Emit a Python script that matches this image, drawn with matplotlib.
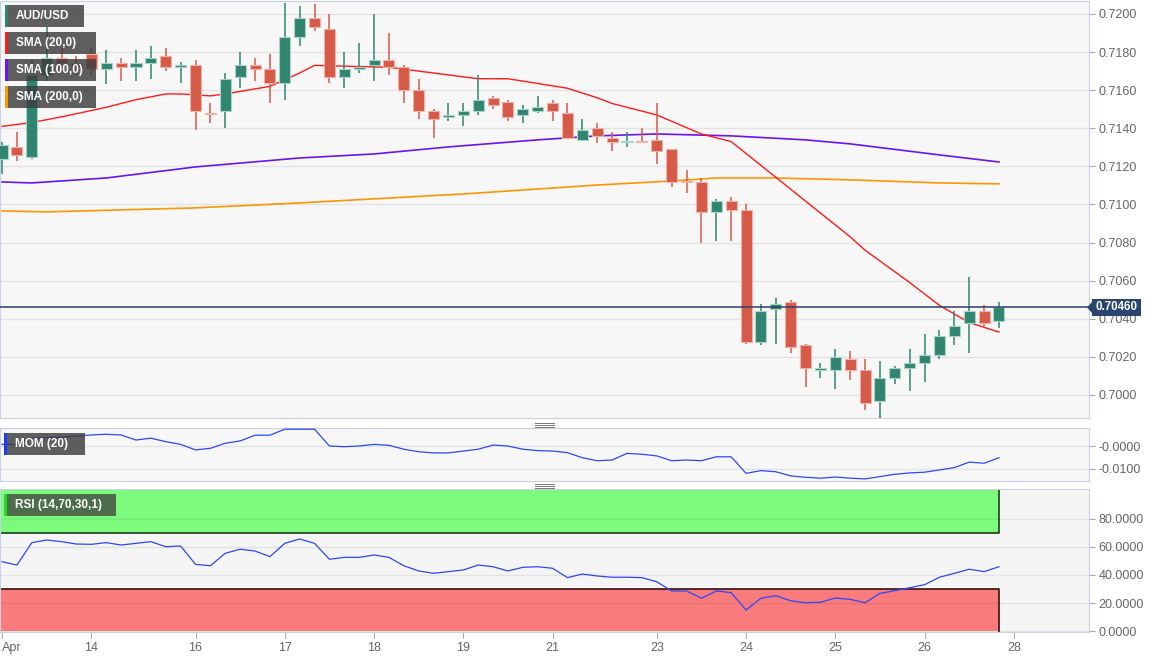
import numpy as np
import matplotlib
matplotlib.use("Agg")
import matplotlib.pyplot as plt
from matplotlib.patches import Rectangle, Polygon
from matplotlib.lines import Line2D

plt.rcParams['font.family'] = ['Liberation Sans', 'DejaVu Sans']

# 4h candles, AUD/USD
opens = [0.7124, 0.7130, 0.7125, 0.7168, 0.7177, 0.7174, 0.7179, 0.7171, 0.7174, 0.7172,
         0.7174, 0.7178, 0.7172, 0.7173, 0.71482, 0.7149, 0.7167, 0.7173, 0.7171, 0.7164,
         0.7188, 0.7198, 0.7192, 0.7167, 0.7171, 0.7173, 0.7176, 0.7172, 0.7160, 0.7149,
         0.7146, 0.7147, 0.7149, 0.7156, 0.7154, 0.7147, 0.7149, 0.7153, 0.7148, 0.7134,
         0.7140, 0.7135, 0.71330, 0.71335, 0.7134, 0.7129, 0.71122, 0.7112, 0.7096, 0.7102,
         0.7097, 0.7028, 0.7045, 0.7049, 0.7026, 0.7013, 0.7013, 0.7019, 0.7013, 0.6997,
         0.7009, 0.7014, 0.7017, 0.7021, 0.7031, 0.7038, 0.7044, 0.7039]
highs = [0.7133, 0.7138, 0.7176, 0.7193, 0.7182, 0.7178, 0.7182, 0.7181, 0.7177, 0.7181,
         0.7183, 0.7182, 0.7175, 0.7176, 0.7153, 0.7169, 0.7180, 0.7177, 0.7179, 0.7206,
         0.7204, 0.7205, 0.7200, 0.7180, 0.7185, 0.7200, 0.7190, 0.7173, 0.7166, 0.7150,
         0.7153, 0.7153, 0.7168, 0.7157, 0.7155, 0.7152, 0.7157, 0.7155, 0.7153, 0.7145,
         0.7143, 0.7138, 0.7138, 0.7140, 0.7153, 0.7129, 0.7118, 0.7114, 0.7103, 0.7104,
         0.7100, 0.7048, 0.7051, 0.7050, 0.7027, 0.7017, 0.7024, 0.7023, 0.7019, 0.7018,
         0.7015, 0.7024, 0.7032, 0.7034, 0.7044, 0.7062, 0.7047, 0.7049]
lows = [0.7116, 0.7123, 0.7124, 0.7165, 0.7170, 0.7168, 0.7168, 0.7163, 0.7165, 0.7165,
        0.7166, 0.7170, 0.7164, 0.7139, 0.7143, 0.7140, 0.7161, 0.7165, 0.7153, 0.7155,
        0.7183, 0.7191, 0.7164, 0.7161, 0.7169, 0.7165, 0.7168, 0.7153, 0.7145, 0.7135,
        0.7144, 0.7141, 0.7147, 0.7150, 0.7144, 0.7143, 0.7148, 0.7144, 0.7135, 0.7134,
        0.7132, 0.7128, 0.7130, 0.7132, 0.7121, 0.7109, 0.7106, 0.7080, 0.7081, 0.7081,
        0.7027, 0.7026, 0.7027, 0.7022, 0.7004, 0.7009, 0.7003, 0.7008, 0.6992, 0.6988,
        0.7006, 0.7002, 0.7007, 0.7019, 0.7026, 0.7022, 0.7036, 0.7035]
closes = [0.7131, 0.7126, 0.7168, 0.7177, 0.7174, 0.7172, 0.7171, 0.7174, 0.7172, 0.7174,
          0.7177, 0.7172, 0.7173, 0.7149, 0.71475, 0.7166, 0.7173, 0.7171, 0.7164, 0.7188,
          0.7198, 0.7193, 0.7167, 0.7171, 0.7172, 0.7176, 0.7172, 0.7160, 0.7149, 0.7145,
          0.7147, 0.7149, 0.7155, 0.7152, 0.7146, 0.7150, 0.7151, 0.7149, 0.7135, 0.7139,
          0.7136, 0.7133, 0.71335, 0.71330, 0.7128, 0.7112, 0.71117, 0.7096, 0.7102, 0.7097,
          0.7028, 0.7044, 0.7048, 0.7025, 0.7014, 0.7014, 0.7020, 0.7013, 0.6996, 0.7009,
          0.7014, 0.7017, 0.7021, 0.7031, 0.7036, 0.7044, 0.7038, 0.7046]

# moving averages (read at candle index)
sma20_idx = [0, 2, 4, 7, 9, 11, 12, 14, 15, 18, 20, 21, 26, 32, 34, 38, 40, 41, 44, 47, 49,
             57, 58, 61, 63, 65, 67]
sma20 = [0.7141, 0.7143, 0.7146, 0.7151, 0.7155, 0.7158, 0.7158, 0.7157, 0.7158, 0.7162, 0.7169,
         0.7173, 0.7172, 0.7166, 0.7166, 0.7161, 0.7156, 0.7153, 0.7147, 0.7137, 0.7133,
         0.7083, 0.7076, 0.7059, 0.7047, 0.7038, 0.7033]
sma100_idx = [0, 2, 7, 13, 20, 25, 30, 36, 40, 44, 49, 54, 57, 63, 67]
sma100 = [0.71118, 0.71113, 0.71139, 0.71197, 0.71244, 0.71265, 0.71302, 0.71339, 0.71360,
          0.71370, 0.71360, 0.71339, 0.71318, 0.71260, 0.71223]
sma200_idx = [0, 3, 13, 20, 31, 40, 45, 48, 52, 57, 63, 67]
sma200 = [0.70966, 0.70961, 0.70982, 0.71008, 0.71055, 0.71102, 0.71123, 0.71139, 0.71139,
          0.71129, 0.71113, 0.71108]

mom = [0.0007, 0.0007, 0.0034, 0.0037, 0.0038, 0.0043, 0.0048, 0.0051, 0.0048, 0.0026,
       0.0034, 0.0019, 0.0007, -0.0017, -0.0010, 0.0012, 0.0022, 0.0047, 0.0047, 0.0073,
       0.0073, 0.0073, 0.0000, -0.0003, 0.0000, 0.0007, 0.0003, -0.0014, -0.0025, -0.0030,
       -0.0030, -0.0022, -0.0014, 0.0004, 0.0000, -0.0014, -0.0020, -0.0022, -0.0029, -0.0051,
       -0.0064, -0.0061, -0.0032, -0.0036, -0.0043, -0.0064, -0.0061, -0.0064, -0.0047, -0.0047,
       -0.0119, -0.0107, -0.0112, -0.0130, -0.0136, -0.0140, -0.0135, -0.0140, -0.0143, -0.0133,
       -0.0123, -0.0117, -0.0114, -0.0104, -0.0094, -0.0070, -0.0075, -0.0051]
rsi = [49.5, 47.1, 63.1, 65.0, 63.8, 62.1, 61.9, 63.1, 61.4, 62.6,
       63.8, 60.2, 60.7, 47.6, 46.6, 55.5, 58.4, 57.1, 53.1, 62.6,
       65.7, 62.6, 51.2, 52.6, 52.6, 54.3, 52.6, 46.6, 42.9, 41.2,
       42.4, 43.6, 47.1, 45.9, 42.9, 45.5, 45.9, 44.8, 38.1, 40.7,
       39.3, 38.4, 38.4, 38.1, 35.2, 28.6, 28.6, 23.4, 28.6, 27.4,
       15.0, 23.4, 25.2, 21.6, 20.2, 20.5, 23.6, 22.6, 20.2, 26.9,
       28.8, 30.9, 33.1, 38.4, 41.2, 44.1, 42.4, 45.9]

day_idx = [0, 6, 13, 19, 25, 31, 37, 44, 50, 56, 62, 68]
day_labels = ['Apr', '14', '16', '17', '18', '19', '21', '23', '24', '25', '26', '28']
last_price = 0.70460

W, H = 1166, 658
GREEN = '#318570'
RED = '#d65a48'
SPINE = '#c9d1e3'
GRID = '#e3e3e3'


def rect(x0, y0, x1, y1):
    return [x0 / W, 1 - y1 / H, (x1 - x0) / W, (y1 - y0) / H]


fig = plt.figure(figsize=(W / 100, H / 100), dpi=100, facecolor='white')
ax = fig.add_axes(rect(0, 1, 1089, 418))
axm = fig.add_axes(rect(0, 428, 1089, 481))
axr = fig.add_axes(rect(0, 489, 1089, 632))

n = len(opens)
x = np.arange(n)
xlim = (-0.14, 73.05)

for a in (ax, axm, axr):
    a.set_facecolor('#f7f7f7')
    a.set_xlim(*xlim)
    for s in a.spines.values():
        s.set_color(SPINE)
    a.yaxis.tick_right()
    a.tick_params(axis='y', length=4, color='#aaaaaa', labelcolor='#666666', labelsize=9, pad=3)
    a.tick_params(axis='x', bottom=False, labelbottom=False)

# main panel
ax.set_ylim(0.69879, 0.72068)
yt = np.arange(0.700, 0.72001, 0.002)
ax.set_yticks(yt)
ax.set_yticklabels([f'{v:.4f}' for v in yt])
for v in yt:
    ax.axhline(v, color=GRID, lw=1, zorder=0.5)

ax.plot(sma200_idx, sma200, color='#ff9500', lw=1.2, zorder=2)
ax.plot(sma100_idx, sma100, color='#6a14f0', lw=1.2, zorder=2)
ax.plot(sma20_idx, sma20, color='#ff1a1a', lw=1.0, zorder=2)

o = np.array(opens)
c = np.array(closes)
up = c >= o
cols = np.where(up, GREEN, RED)
edges = np.where(up, '#a9d3c6', '#f0b2a9')
ax.vlines(x, lows, highs, colors=cols, lw=1.1, zorder=3)
bottom = np.minimum(o, c)
height = np.maximum(np.abs(c - o), 0.00004)
ax.bar(x, height, bottom=bottom, width=0.74, color=cols, edgecolor=edges, lw=0.8, zorder=4)

ax.axhline(last_price, color='#2b3f66', lw=1.1, zorder=5)

# momentum panel
axm.set_ylim(-0.01522, 0.00783)
axm.set_yticks([0, -0.01])
axm.set_yticklabels(['-0.0000', '-0.0100'])
for v in (0, -0.01):
    axm.axhline(v, color=GRID, lw=1, zorder=0.5)
axm.plot(x, mom, color='#2c46ff', lw=0.9, zorder=3)

# rsi panel
axr.set_ylim(-0.7, 101.4)
axr.set_facecolor('#f5f5f5')
rt = [0, 20, 40, 60, 80]
axr.set_yticks(rt)
axr.set_yticklabels([f'{v:.4f}' for v in rt])
axr.fill_between([xlim[0], n - 1], 70, 101.4, color='#7cfa7c', zorder=1, lw=0)
axr.fill_between([xlim[0], n - 1], 0, 30, color='#f97b7b', zorder=1, lw=0)
axr.plot([xlim[0], n - 1, n - 1], [70, 70, 101.4], color='#1c3a1c', lw=1.2, zorder=2)
axr.plot([xlim[0], n - 1, n - 1], [30, 30, -0.7], color='#3a1010', lw=1.2, zorder=2)
for v in rt:
    axr.axhline(v, color='black', alpha=0.07, lw=1, zorder=1.5)
axr.plot(x, rsi, color='#2c46ff', lw=0.9, zorder=3)
axr.set_xticks(day_idx)
axr.set_xticklabels(day_labels)
axr.tick_params(axis='x', bottom=True, labelbottom=True, length=4, color='#aaaaaa',
                labelcolor='#666666', labelsize=9, pad=3)
axr.get_xticklabels()[0].set_horizontalalignment('left')


def px(xp, yp):
    return xp / W, 1 - yp / H


def label_box(x0, y0, x1, y1, text, stripe, alpha=0.82):
    fx, fy = px(x0, y1)
    fig.add_artist(Rectangle((fx, fy), (x1 - x0) / W, (y1 - y0) / H, transform=fig.transFigure,
                             facecolor='#3c3c3c', alpha=alpha, edgecolor='none', zorder=10))
    fig.add_artist(Rectangle((fx, fy), 2.5 / W, (y1 - y0) / H, transform=fig.transFigure,
                             facecolor=stripe, edgecolor='none', zorder=11))
    tx, ty = px(x0 + 11, (y0 + y1) / 2)
    fig.text(tx, ty, text, color='white', fontsize=8.5, fontweight='bold', va='center', ha='left', zorder=12)


label_box(5, 5, 84, 27, 'AUD/USD', GREEN)
label_box(5, 32, 96, 54, 'SMA (20,0)', '#ff1a1a')
label_box(5, 59, 96, 81, 'SMA (100,0)', '#6a14f0')
label_box(5, 86, 96, 108, 'SMA (200,0)', '#ff9500')
label_box(4, 433, 85, 455, 'MOM (20)', '#1a3cff')
label_box(4, 494, 116, 516, 'RSI (14,70,30,1)', '#22dd22', alpha=0.75)

# last price tag
bx0, by0, bx1, by1 = 1092, 299, 1141, 316
fx, fy = px(bx0, by1)
fig.add_artist(Rectangle((fx, fy), (bx1 - bx0) / W, (by1 - by0) / H, transform=fig.transFigure,
                         facecolor='#2b4470', edgecolor='none', zorder=10))
tri = [px(1087, 307.5), px(bx0, by0 + 3), px(bx0, by1 - 3)]
fig.add_artist(Polygon(tri, closed=True, transform=fig.transFigure, facecolor='#2b4470',
                       edgecolor='none', zorder=10))
tx, ty = px((bx0 + bx1) / 2, (by0 + by1) / 2)
fig.text(tx, ty, f'{last_price:.5f}', color='white', fontsize=8.3, fontweight='bold',
         ha='center', va='center', zorder=12)

# panel resize handles
for yh in (423, 484):
    for k in range(3):
        hx0, hy = px(535, yh + 2 * k)
        hx1, _ = px(554, yh + 2 * k)
        fig.add_artist(Line2D([hx0, hx1], [hy, hy], transform=fig.transFigure,
                              color='#777777', lw=0.7, zorder=10))

fig.savefig('out.png', dpi=100, facecolor='white')
